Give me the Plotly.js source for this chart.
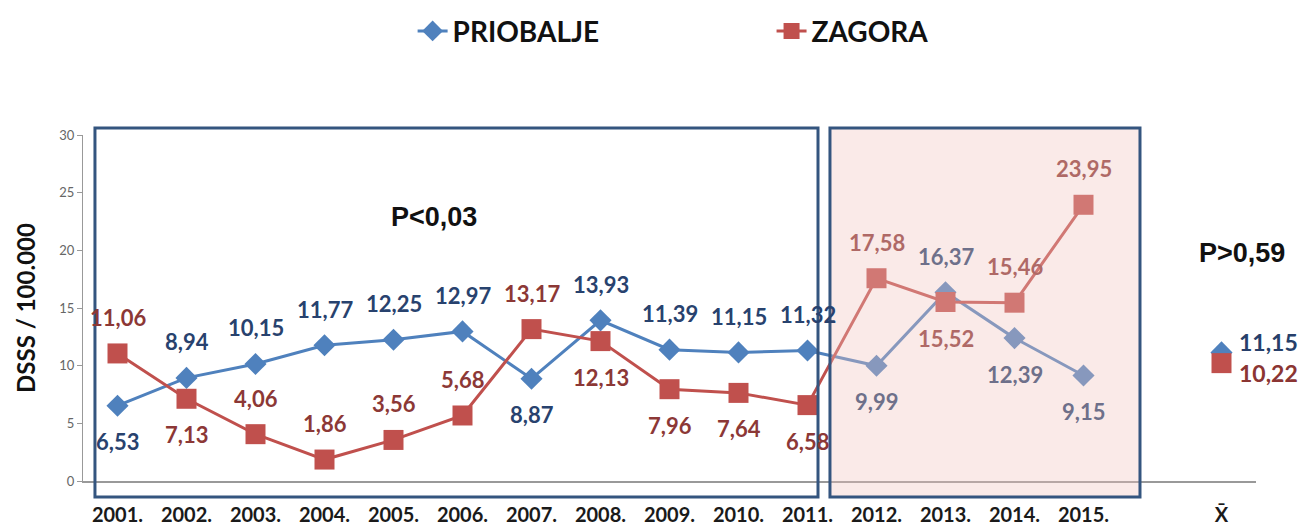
<!DOCTYPE html>
<html><head><meta charset="utf-8">
<script src="https://cdn.plot.ly/plotly-3.0.1.min.js"></script>
<style>html,body{margin:0;padding:0;background:#fff}#chart{width:1309px;height:525px}</style>
</head><body><div id="chart"></div>
<script>
// ---- data ----
const years = ['2001.','2002.','2003.','2004.','2005.','2006.','2007.','2008.','2009.','2010.','2011.','2012.','2013.','2014.','2015.'];
const priobalje = [6.53,8.94,10.15,11.77,12.25,12.97,8.87,13.93,11.39,11.15,11.32,9.99,16.37,12.39,9.15];
const zagora = [11.06,7.13,4.06,1.86,3.56,5.68,13.17,12.13,7.96,7.64,6.58,17.58,15.52,15.46,23.95];
const meanLabel = 'X\u0304';
const priobaljeMean = 11.15;
const zagoraMean = 10.22;
const seriesNames = ['PRIOBALJE','ZAGORA'];
const yTitle = 'DSSS / 100.000';
const pLeftText = 'P<0,03';
const pRightText = 'P>0,59';
// label placement (above / below the point)
const priobaljeSide = ['b','a','a','a','a','a','b','a','a','a','a','b','a','b','b'];
const zagoraSide    = ['a','b','a','a','a','a','a','b','b','b','b','a','b','a','a'];
const shadeFrom = 11; // index of 2012.

// ---- helpers ----
const fmt = v => v.toFixed(2).replace('.', ',');
const idx = years.map((_, i) => i);
const meanIdx = years.length + 1;
const blue = '#4F81BD', red = '#C0504D';
const blueLbl = [40,66,110], redLbl = [140,56,54];
const overlay = [240,196,190], alpha = 0.35;
const col = (c, faded) => {
  const r = faded ? c.map((v, k) => Math.round(alpha*overlay[k] + (1-alpha)*v)) : c;
  return 'rgb(' + r.join(',') + ')';
};
const F = 'Lato, "Open Sans", sans-serif';
const A = '"Liberation Sans", Arial, sans-serif';

const traces = [
  {x: idx, y: priobalje, name: seriesNames[0], mode: 'lines+markers', legend: 'legend',
   line: {color: blue, width: 3}, marker: {symbol: 'diamond', size: 17, color: blue}},
  {x: idx, y: zagora, name: seriesNames[1], mode: 'lines+markers', legend: 'legend2',
   line: {color: red, width: 3}, marker: {symbol: 'square', size: 20, color: red}},
  {x: [meanIdx], y: [priobaljeMean], mode: 'markers', showlegend: false,
   marker: {symbol: 'diamond', size: 17, color: blue}},
  {x: [meanIdx], y: [zagoraMean], mode: 'markers', showlegend: false,
   marker: {symbol: 'square', size: 20, color: red}}
];

const ann = [];
priobalje.forEach((v, i) => ann.push({x: i, y: v, text: '<b>' + fmt(v) + '</b>', showarrow: false,
  yshift: priobaljeSide[i] === 'a' ? 36 : -36,
  font: {family: F, size: 22, color: col(blueLbl, i >= shadeFrom)}}));
zagora.forEach((v, i) => ann.push({x: i, y: v, text: '<b>' + fmt(v) + '</b>', showarrow: false,
  yshift: zagoraSide[i] === 'a' ? 36 : -36,
  font: {family: F, size: 22, color: col(redLbl, i >= shadeFrom)}}));
ann.push({x: meanIdx, y: priobaljeMean, text: '<b>' + fmt(priobaljeMean) + '</b>', showarrow: false,
  xanchor: 'left', xshift: 15, yshift: 10, font: {family: F, size: 23, color: '#263F6A'}});
ann.push({x: meanIdx, y: zagoraMean, text: '<b>' + fmt(zagoraMean) + '</b>', showarrow: false,
  xanchor: 'left', xshift: 15, yshift: -10, font: {family: F, size: 23, color: '#8B3533'}});
ann.push({x: 4.58, y: 22.9, text: '<b>' + pLeftText.replace('<', '&lt;') + '</b>', showarrow: false,
  font: {family: A, size: 27, color: '#111'}});
ann.push({x: 16.3, y: 19.8, text: '<b>' + pRightText.replace('>', '&gt;') + '</b>', showarrow: false,
  font: {family: A, size: 27, color: '#111'}});

const boxLine = '#34557F';
const layout = {
  width: 1309, height: 525,
  margin: {l: 83, r: 53, t: 135, b: 44, autoexpand: false},
  paper_bgcolor: '#fff', plot_bgcolor: '#fff',
  font: {family: F},
  xaxis: {range: [-0.5, meanIdx + 0.5], tickvals: [...idx, meanIdx], ticktext: [...years, meanLabel],
    showgrid: false, zeroline: false, showline: true, linecolor: '#999', linewidth: 1.5,
    ticks: '', ticklabelstandoff: 15, automargin: false,
    tickfont: {family: F, size: 20, color: '#1a1a1a', weight: 'bold'}},
  yaxis: {range: [0, 30], dtick: 5, showgrid: false, zeroline: false, showline: true,
    linecolor: '#999', linewidth: 1, ticks: 'outside', ticklen: 5, tickcolor: '#999',
    tickfont: {family: F, size: 13, color: '#666'}, automargin: false,
    title: {text: '<b>' + yTitle + '</b>', standoff: 16, font: {family: F, size: 24, color: '#111'}}},
  showlegend: true,
  legend: {orientation: 'h', x: 0.281, xanchor: 'left', y: 1.30, yanchor: 'middle',
    font: {family: F, size: 28, color: '#111', weight: 'bold'}, bgcolor: 'rgba(0,0,0,0)'},
  legend2: {orientation: 'h', x: 0.587, xanchor: 'left', y: 1.30, yanchor: 'middle',
    font: {family: F, size: 28, color: '#111', weight: 'bold'}, bgcolor: 'rgba(0,0,0,0)'},
  shapes: [
    {type: 'rect', xref: 'paper', yref: 'paper', x0: 0.0102, x1: 0.6266, y0: -0.046, y1: 1.020,
     line: {color: boxLine, width: 3}, fillcolor: 'rgba(0,0,0,0)', layer: 'above'},
    {type: 'rect', xref: 'paper', yref: 'paper', x0: 0.6368, x1: 0.9011, y0: -0.046, y1: 1.020,
     line: {color: boxLine, width: 3}, fillcolor: 'rgba(240,196,190,0.35)', layer: 'above'}
  ],
  annotations: ann
};
Plotly.newPlot('chart', traces, layout, {displayModeBar: false, staticPlot: true});
</script></body></html>
